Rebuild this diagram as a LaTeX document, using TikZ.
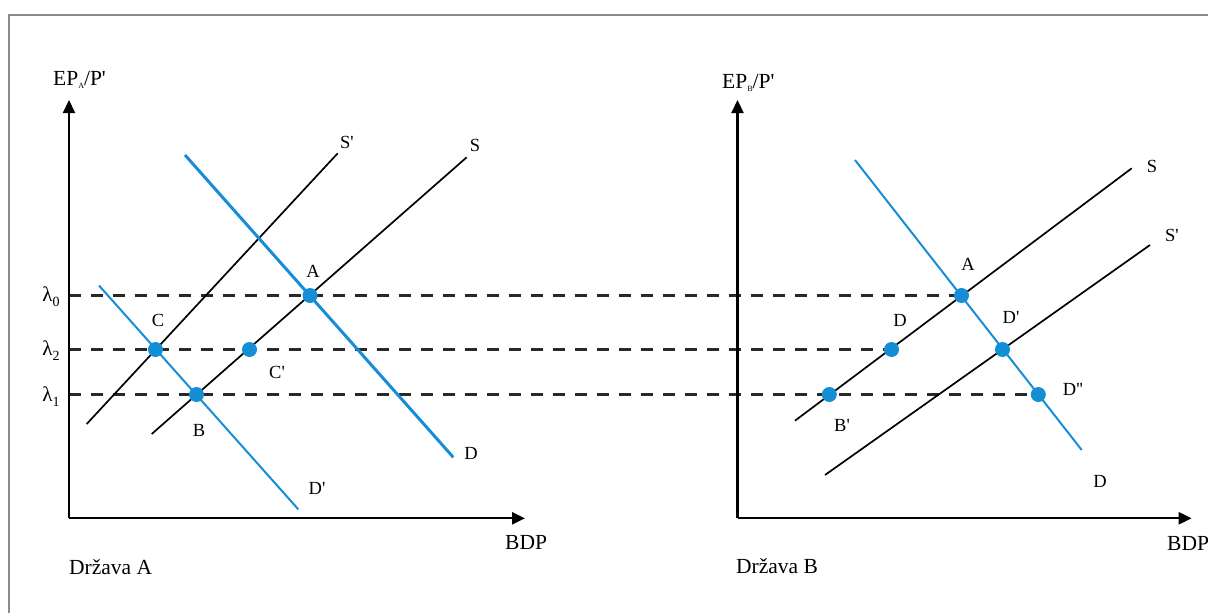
\documentclass[tikz,border=0pt]{standalone}
\usepackage{fontspec}
\setmainfont{Liberation Serif}[Ligatures=TeXOff]
\usetikzlibrary{arrows.meta}
\definecolor{eblue}{RGB}{22,142,214}
\definecolor{dashgray}{RGB}{40,40,40}
\definecolor{framegray}{RGB}{140,140,140}
\newcommand{\lam}[1]{λ\raisebox{-0.5ex}{\fontsize{14}{14}\selectfont #1}}
\newcommand{\subsm}[1]{\raisebox{-0.35ex}{\fontsize{8}{8}\selectfont #1}}
\begin{document}
\begin{tikzpicture}[x=1pt,y=-1pt,
  every node/.style={inner sep=0pt},
  lbl/.style={font=\fontsize{18.5}{20}\selectfont},
  lamlbl/.style={font=\fontsize{21}{22}\selectfont},
  big/.style={font=\fontsize{21.5}{23}\selectfont, anchor=base west},
  axis/.style={line width=2.2pt, -{Triangle[length=13pt,width=12pt]}},
  sline/.style={line width=1.7pt, black},
  dthick/.style={line width=3pt, eblue},
  dthin/.style={line width=2pt, eblue},
  guide/.style={line width=2.5pt, dashgray, dash pattern=on 12pt off 10pt},
  dot/.style={circle, fill=eblue, minimum size=15pt, inner sep=0pt}]
\useasboundingbox (0,0) rectangle (1208,613);
\clip (0,0) rectangle (1208,613);
% frame
\draw[framegray, line width=1.5pt] (9,640) -- (9,15) -- (1230,15);

% ---------- left panel coordinates ----------
\coordinate (oA) at (69,518.3);
\coordinate (yA) at (69,100);
\coordinate (xA) at (525,518.3);
\coordinate (SpA1) at (86.7,424);   \coordinate (SpA2) at (337.7,153.3);
\coordinate (SA1) at (151.7,434);   \coordinate (SA2) at (466.7,157.3);
\coordinate (DA1) at (185,155);     \coordinate (DA2) at (453.3,457.3);
\coordinate (DpA1) at (99,285.5);   \coordinate (DpA2) at (298.3,509.3);
\coordinate (l0) at (69,295.5);
\coordinate (l2) at (69,349.5);
\coordinate (l1) at (69,394.5);
\coordinate (pA) at (310,295.5);
\coordinate (pC) at (155.5,349.5);
\coordinate (pCp) at (249.5,349.5);
\coordinate (pB) at (196.5,394.5);

% ---------- right panel coordinates ----------
\coordinate (oB) at (737.5,518.3);
\coordinate (yB) at (737.5,100);
\coordinate (xB) at (1191.7,518.3);
\coordinate (SB1) at (795,420.7);   \coordinate (SB2) at (1131.7,168.3);
\coordinate (SpB1) at (825,475);    \coordinate (SpB2) at (1150,245);
\coordinate (DB1) at (855,160);     \coordinate (DB2) at (1081.7,450);
\coordinate (qA) at (961.5,295.5);
\coordinate (qD) at (891.5,349.5);
\coordinate (qDp) at (1002.5,349.5);
\coordinate (qBp) at (829.3,394.5);
\coordinate (qDpp) at (1038.3,394.5);

% dashed guides
\draw[guide] (l0) -- (qA);
\draw[guide] (l2) -- (qD);
\draw[guide] (l1) -- (qDpp);

% axes
\draw[axis] (oA) -- (yA);
\draw[axis] (oA) -- (xA);
\draw[axis] (oB) -- (yB);
\draw[axis] (oB) -- (xB);

% left curves
\draw[sline] (SpA1) -- (SpA2);
\draw[sline] (SA1) -- (SA2);
\draw[dthick] (DA1) -- (DA2);
\draw[dthin] (DpA1) -- (DpA2);

% right curves
\draw[sline] (SB1) -- (SB2);
\draw[sline] (SpB1) -- (SpB2);
\draw[dthin] (DB1) -- (DB2);

% dots
\node[dot] (dA) at (pA) {};
\node[dot] (dC) at (pC) {};
\node[dot] (dCp) at (pCp) {};
\node[dot] (dB) at (pB) {};
\node[dot] (eA) at (qA) {};
\node[dot] (eD) at (qD) {};
\node[dot] (eDp) at (qDp) {};
\node[dot] (eBp) at (qBp) {};
\node[dot] (eDpp) at (qDpp) {};

% left labels
\node[big] (tyA) at (53,85) {EP\subsm{A}/P'};
\node[big] (txA) at (505,549) {BDP};
\node[big] (tnA) at (69,574) {Država A};
\node[lamlbl] (tl0) at (51,297) {\lam{0}};
\node[lamlbl] (tl2) at (51,351) {\lam{2}};
\node[lamlbl] (tl1) at (51,396.5) {\lam{1}};
\node[lbl] (tSp) at (347,142) {S'};
\node[lbl] (tS) at (475,145) {S};
\node[lbl] (tA) at (313,271) {A};
\node[lbl] (tC) at (158,320) {C};
\node[lbl] (tCp) at (277,372) {C'};
\node[lbl] (tB) at (199,430) {B};
\node[lbl] (tD) at (471,453) {D};
\node[lbl] (tDp) at (317,488) {D'};

% right labels
\node[big] (tyB) at (722,88) {EP\subsm{B}/P'};
\node[big] (txB) at (1167,550) {BDP};
\node[big] (tnB) at (736,573) {Država B};
\node[lbl] (uS) at (1152,166) {S};
\node[lbl] (uSp) at (1172,235) {S'};
\node[lbl] (uA) at (968,264) {A};
\node[lbl] (uD) at (900,320) {D};
\node[lbl] (uDp) at (1011,317) {D'};
\node[lbl] (uDpp) at (1073,389) {D''};
\node[lbl] (uBp) at (842,425) {B'};
\node[lbl] (uDend) at (1100,481) {D};
\end{tikzpicture}
\end{document}
